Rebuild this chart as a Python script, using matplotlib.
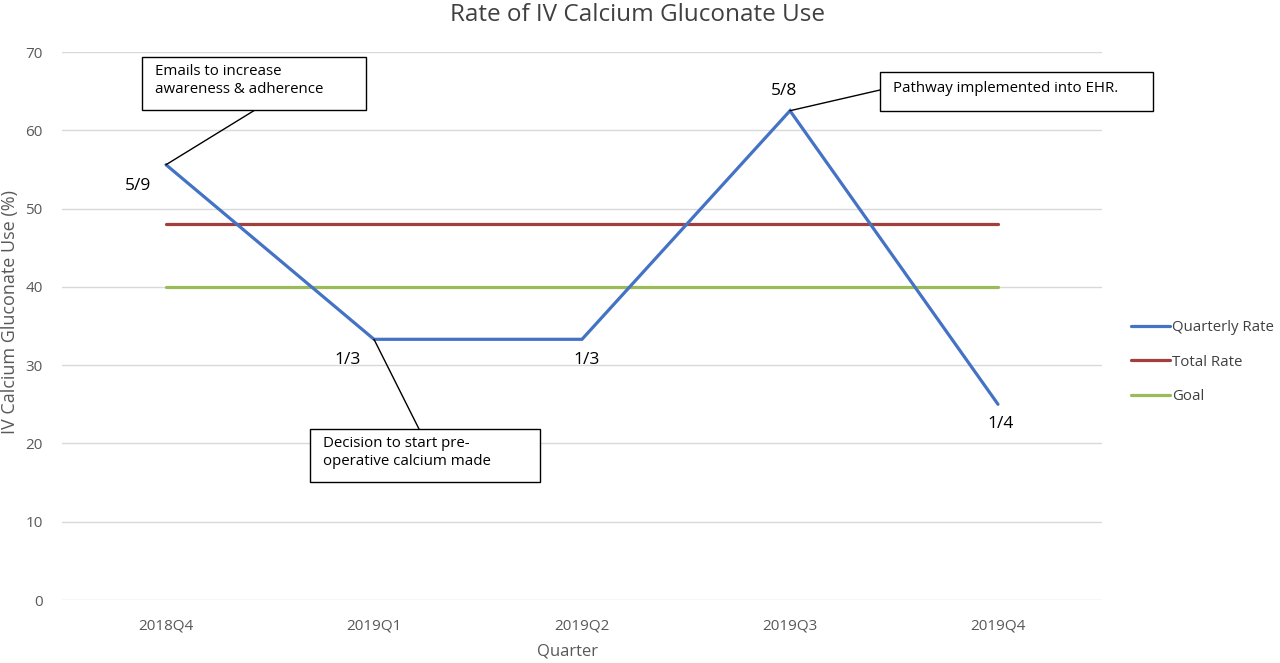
import matplotlib
matplotlib.use("Agg")
import matplotlib.pyplot as plt
from matplotlib.patches import Rectangle

quarters = ["2018Q4", "2019Q1", "2019Q2", "2019Q3", "2019Q4"]
quarterly_rate = [55.6, 33.3, 33.3, 62.5, 25.0]
total_rate = [48.0, 48.0, 48.0, 48.0, 48.0]
goal = [40, 40, 40, 40, 40]
point_labels = ["5/9", "1/3", "1/3", "5/8", "1/4"]
yticks = [0, 10, 20, 30, 40, 50, 60, 70]

plt.rcParams['font.family'] = ['Open Sans', 'DejaVu Sans']

W, H = 1280, 663
fig = plt.figure(figsize=(W / 100, H / 100), dpi=100)

def px(x, y):
    return (x / W, 1 - y / H)

l, b = px(62, 600)
r, t = px(1102, 52)
ax = fig.add_axes([l, b, r - l, t - b])

xs = list(range(len(quarters)))
ax.plot(xs, quarterly_rate, color="#4472C4", lw=2.3, label="Quarterly Rate", zorder=3,
        solid_joinstyle="miter", solid_capstyle="round")
ax.plot(xs, total_rate, color="#A23F3C", lw=2.3, label="Total Rate", zorder=2, solid_capstyle="round")
ax.plot(xs, goal, color="#9BBB59", lw=2.3, label="Goal", zorder=2, solid_capstyle="round")

ax.set_xlim(-0.5, len(quarters) - 0.5)
ax.set_ylim(0, 70)
ax.set_yticks(yticks)
ax.set_xticks(xs)
ax.set_xticklabels(quarters)
ax.tick_params(axis="both", length=0, labelsize=11, colors="#595959")
ax.tick_params(axis="x", pad=13)
ax.tick_params(axis="y", pad=14)
ax.grid(axis="y", color="#D9D9D9", lw=1)
ax.set_axisbelow(True)
for s in ax.spines.values():
    s.set_visible(False)

fig.text(*px(637, 15), "Rate of IV Calcium Gluconate Use", ha="center", va="center",
         fontsize=17.5, color="#404040")
fig.text(*px(567, 652), "Quarter", ha="center", va="center", fontsize=12, color="#595959")
fig.text(*px(10, 312), "IV Calcium Gluconate Use (%)", ha="center", va="center",
         rotation=90, fontsize=13, color="#595959")

# data labels (offsets in points)
offsets = [(-20, -15), (-19, -15), (3, -15), (-4, 14), (2, -14)]
for i, (v, lab) in enumerate(zip(quarterly_rate, point_labels)):
    ax.annotate(lab, xy=(i, v), xytext=offsets[i], textcoords="offset points",
                ha="center", va="center", fontsize=12.5, color="black")

# callout boxes (pixel geometry)
callouts = [
    (0, (142, 57, 366, 110), "Emails to increase\nawareness & adherence", (255, 110)),
    (1, (310, 429, 540, 482), "Decision to start pre-\noperative calcium made", (419, 429)),
    (3, (880, 72, 1153, 111), "Pathway implemented into EHR.", (880, 90)),
]
for idx, (x0, y0, x1, y1), txt, anchor in callouts:
    bl = px(x0, y1)
    tr = px(x1, y0)
    fig.patches.append(Rectangle(bl, tr[0] - bl[0], tr[1] - bl[1], transform=fig.transFigure,
                                 facecolor="white", edgecolor="black", lw=1, zorder=5))
    tx, ty = px(x0 + 13, (y0 + y1) / 2 - 3)
    fig.text(tx, ty, txt, ha="left", va="center", fontsize=10.8, color="black",
             linespacing=1.25, zorder=6)
    ax.annotate("", xy=(idx, quarterly_rate[idx]), xycoords="data",
                xytext=px(*anchor), textcoords="figure fraction",
                arrowprops=dict(arrowstyle="-", color="black", lw=1, shrinkA=0, shrinkB=0))

leg = ax.legend(loc="center left", bbox_to_anchor=(1.015, 0.434), frameon=False,
                fontsize=10.8, handlelength=2.6, labelspacing=1.3, handletextpad=0.15)
for txt in leg.get_texts():
    txt.set_color("#404040")

fig.savefig("out.png", dpi=100)
